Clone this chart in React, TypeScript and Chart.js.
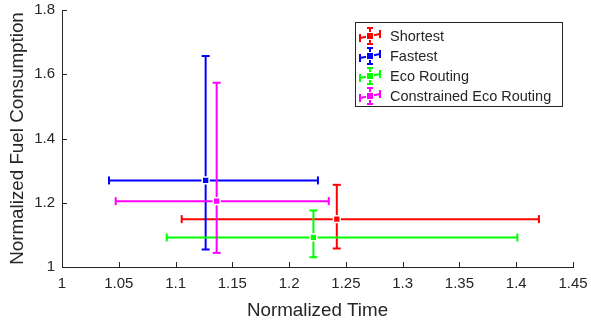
import { useEffect, useRef } from "react";
import { Chart, registerables } from "chart.js";

Chart.register(...registerables);

const seriesNames = ["Shortest", "Fastest", "Eco Routing", "Constrained Eco Routing"];
const seriesColors = ["#ff0000", "#0000ff", "#00ff00", "#ff00ff"];

const timeMean = [1.242, 1.1265, 1.2214, 1.1362];
const timeLow = [1.1054, 1.0414, 1.0922, 1.0473];
const timeHigh = [1.42, 1.2254, 1.401, 1.2349];

const fuelMean = [1.149, 1.2695, 1.0919, 1.205];
const fuelLow = [1.0576, 1.0545, 1.0305, 1.044];
const fuelHigh = [1.2558, 1.6567, 1.176, 1.5735];

const xTicks = [1, 1.05, 1.1, 1.15, 1.2, 1.25, 1.3, 1.35, 1.4, 1.45];
const xTickLabels = ["1", "1.05", "1.1", "1.15", "1.2", "1.25", "1.3", "1.35", "1.4", "1.45"];
const yTicks = [1, 1.2, 1.4, 1.6, 1.8];
const yTickLabels = ["1", "1.2", "1.4", "1.6", "1.8"];

const xTitle = "Normalized Time";
const yTitle = "Normalized Fuel Consumption";

const AXIS_COLOR = "#262626";
const FONT = "'Liberation Sans', Arial, sans-serif";

const insideTicksPlugin = {
  id: "insideTicks",
  afterDatasetsDraw(chart: any) {
    const { ctx, chartArea, scales } = chart;
    ctx.save();
    ctx.strokeStyle = AXIS_COLOR;
    ctx.lineWidth = 1;
    ctx.beginPath();
    for (const v of xTicks) {
      const px = Math.round(scales.x.getPixelForValue(v)) + 0.5;
      ctx.moveTo(px, chartArea.bottom);
      ctx.lineTo(px, chartArea.bottom - 5);
    }
    for (const v of yTicks) {
      const py = Math.round(scales.y.getPixelForValue(v)) + 0.5;
      ctx.moveTo(chartArea.left, py);
      ctx.lineTo(chartArea.left + 5, py);
    }
    ctx.stroke();
    ctx.restore();
  },
};

const legendPlugin = {
  id: "boxLegend",
  afterDraw(chart: any) {
    const { ctx, chartArea } = chart;
    const w = 207;
    const h = 84;
    const right = chartArea.right - 11;
    const left = right - w;
    const top = chartArea.top + 12;
    ctx.save();
    ctx.fillStyle = "#ffffff";
    ctx.fillRect(left, top, w, h);
    ctx.strokeStyle = AXIS_COLOR;
    ctx.lineWidth = 1;
    ctx.strokeRect(Math.round(left) + 0.5, Math.round(top) + 0.5, w, h);
    seriesNames.forEach((name, i) => {
      const cy = top + 14 + i * 20;
      const cx = left + 15;
      const col = seriesColors[i];
      ctx.strokeStyle = col;
      ctx.lineWidth = 2;
      ctx.beginPath();
      ctx.moveTo(cx - 10, cy + 2);
      ctx.lineTo(cx + 10, cy - 2);
      ctx.moveTo(cx - 10, cy - 2);
      ctx.lineTo(cx - 10, cy + 6);
      ctx.moveTo(cx + 10, cy - 6);
      ctx.lineTo(cx + 10, cy + 2);
      ctx.moveTo(cx, cy - 8);
      ctx.lineTo(cx, cy + 8);
      ctx.moveTo(cx - 3, cy - 8);
      ctx.lineTo(cx + 3, cy - 8);
      ctx.moveTo(cx - 3, cy + 8);
      ctx.lineTo(cx + 3, cy + 8);
      ctx.stroke();
      ctx.fillStyle = "#ffffff";
      ctx.fillRect(cx - 4, cy - 4, 8, 8);
      ctx.fillStyle = col;
      ctx.fillRect(cx - 3, cy - 3, 6, 6);
      ctx.fillStyle = AXIS_COLOR;
      ctx.font = `14.5px ${FONT}`;
      ctx.textBaseline = "middle";
      ctx.textAlign = "left";
      ctx.fillText(name, left + 35, cy + 1);
    });
    ctx.restore();
  },
};

export default function App() {
  const ref = useRef<HTMLCanvasElement | null>(null);

  useEffect(() => {
    document.body.style.margin = "0";
    if (!ref.current) return;
    const datasets: any[] = [];
    seriesNames.forEach((name, i) => {
      const col = seriesColors[i];
      const base = 100 - i * 10;
      datasets.push({
        label: name + " time",
        data: [
          { x: timeLow[i], y: fuelMean[i] },
          { x: timeHigh[i], y: fuelMean[i] },
        ],
        showLine: true,
        borderColor: col,
        borderWidth: 2,
        pointStyle: "line",
        rotation: 90,
        pointRadius: 4,
        pointBorderColor: col,
        pointBorderWidth: 2,
        order: base,
      });
      datasets.push({
        label: name + " fuel",
        data: [
          { x: timeMean[i], y: fuelLow[i] },
          { x: timeMean[i], y: fuelHigh[i] },
        ],
        showLine: true,
        borderColor: col,
        borderWidth: 2,
        pointStyle: "line",
        rotation: 0,
        pointRadius: 4,
        pointBorderColor: col,
        pointBorderWidth: 2,
        order: base - 1,
      });
      datasets.push({
        label: name,
        data: [{ x: timeMean[i], y: fuelMean[i] }],
        showLine: false,
        pointStyle: "rect",
        pointRadius: 4.8,
        pointBackgroundColor: col,
        pointBorderColor: "#ffffff",
        pointBorderWidth: 1.5,
        order: base - 2,
      });
    });

    const chart = new Chart(ref.current, {
      type: "scatter",
      data: { datasets },
      plugins: [insideTicksPlugin, legendPlugin],
      options: {
        animation: false,
        responsive: false,
        devicePixelRatio: 1,
        events: [],
        layout: { padding: { top: 10, right: 18, left: 0, bottom: 0 } },
        plugins: { legend: { display: false }, tooltip: { enabled: false } },
        scales: {
          x: {
            type: "linear",
            min: 1,
            max: 1.45,
            afterFit: (s: any) => {
              s.height = 53;
              s.paddingLeft = 0;
              s.paddingRight = 0;
            },
            afterBuildTicks: (s: any) => {
              s.ticks = xTicks.map((v) => ({ value: v }));
            },
            ticks: {
              callback: (_v: any, idx: number) => xTickLabels[idx],
              color: AXIS_COLOR,
              font: { family: FONT, size: 15 },
              padding: 8,
              maxRotation: 0,
              autoSkip: false,
            },
            grid: { display: true, drawOnChartArea: false, drawTicks: false, color: "rgba(0,0,0,0)" },
            border: { display: true, color: AXIS_COLOR, width: 1 },
            title: {
              display: true,
              text: xTitle,
              color: AXIS_COLOR,
              font: { family: FONT, size: 18.8, lineHeight: 1 },
              padding: { top: 0, bottom: 0 },
            },
          },
          y: {
            type: "linear",
            min: 1,
            max: 1.8,
            afterFit: (s: any) => {
              s.width = 62;
              s.paddingTop = 0;
              s.paddingBottom = 0;
            },
            afterBuildTicks: (s: any) => {
              s.ticks = yTicks.map((v) => ({ value: v }));
            },
            ticks: {
              callback: (_v: any, idx: number) => yTickLabels[idx],
              color: AXIS_COLOR,
              font: { family: FONT, size: 15 },
              padding: 7,
              autoSkip: false,
            },
            grid: { display: true, drawOnChartArea: false, drawTicks: false, color: "rgba(0,0,0,0)" },
            border: { display: true, color: AXIS_COLOR, width: 1 },
            title: {
              display: true,
              text: yTitle,
              color: AXIS_COLOR,
              font: { family: FONT, size: 18.8, lineHeight: 1 },
              padding: { top: 8, bottom: 0 },
            },
          },
        },
      },
    });
    return () => chart.destroy();
  }, []);

  return (
    <div style={{ width: 591, height: 320, background: "#ffffff" }}>
      <canvas ref={ref} width={591} height={320} style={{ display: "block" }} />
    </div>
  );
}
